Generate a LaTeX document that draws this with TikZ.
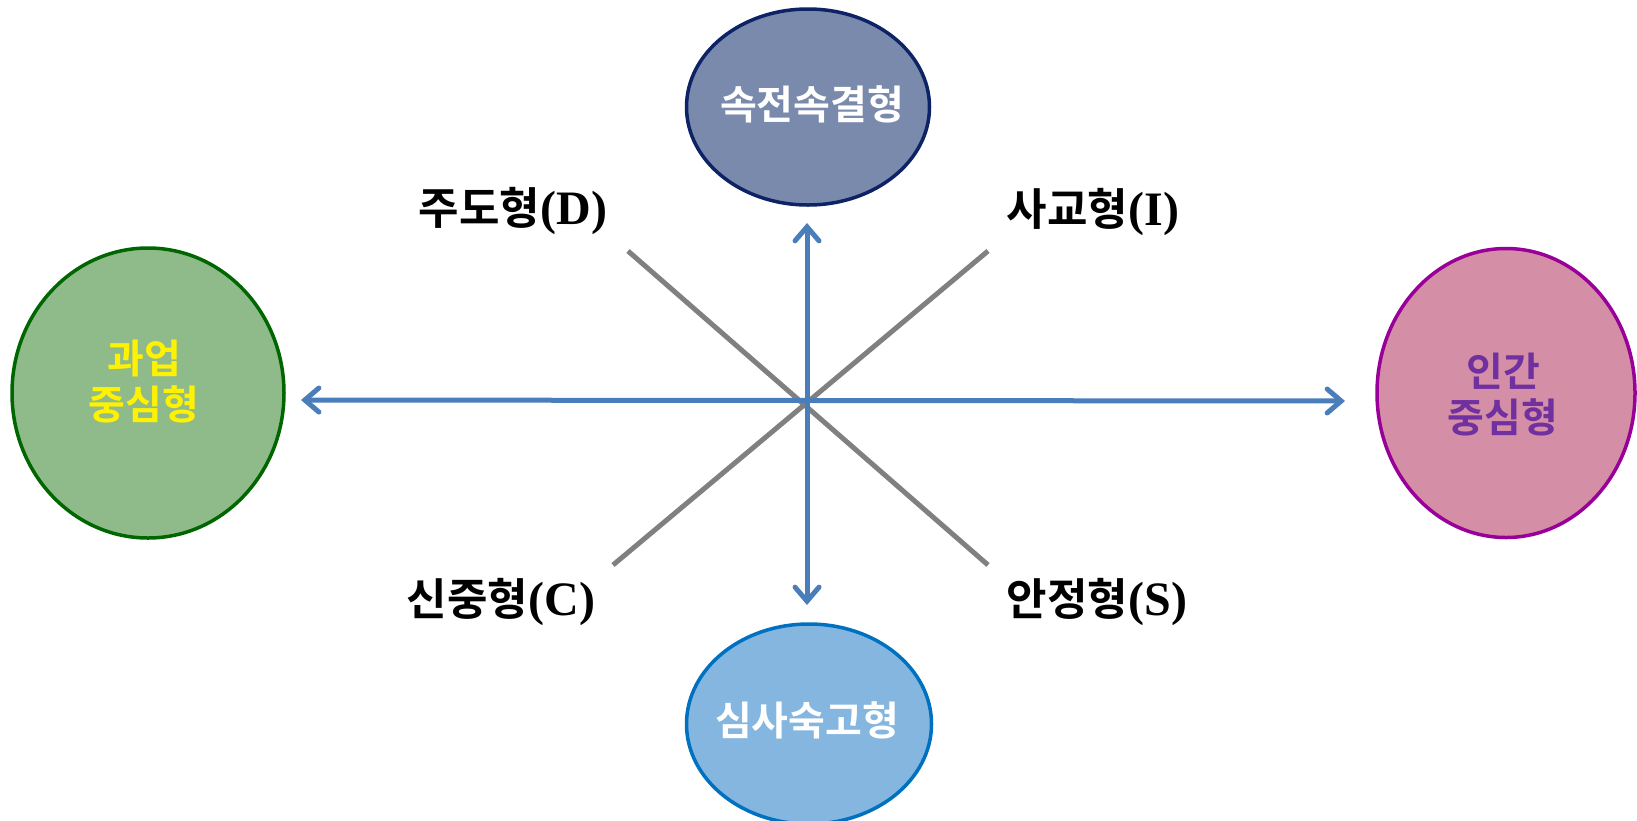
\documentclass[tikz,border=0pt]{standalone}
\usepackage{fontspec}
\setmainfont{Liberation Serif}
\newfontfamily\kr{Noto Sans CJK KR}[BoldFont={Noto Sans CJK KR Bold}]
\usetikzlibrary{shapes.geometric,arrows.meta}
\definecolor{topfill}{HTML}{7A8AAD}
\definecolor{topline}{HTML}{0D2366}
\definecolor{leftfill}{HTML}{8FBB8B}
\definecolor{leftline}{HTML}{006600}
\definecolor{rightfill}{HTML}{D48FA6}
\definecolor{rightline}{HTML}{990099}
\definecolor{botfill}{HTML}{84B6E0}
\definecolor{botline}{HTML}{0070C0}
\definecolor{arrowblue}{HTML}{4A7EBB}
\definecolor{graybar}{HTML}{808080}
\definecolor{purpletext}{HTML}{7030A0}
\newcommand{\latpart}[1]{{\fontsize{48}{52}\selectfont #1}}
\tikzset{
  oval/.style={ellipse, draw, line width=3.5pt, inner sep=0pt},
  ovaltext/.style={font=\kr\bfseries\fontsize{40}{46}\selectfont, align=center, inner sep=0pt},
  typelabel/.style={font=\bfseries\fontsize{44}{50}\selectfont, inner sep=0pt},
  bluearrow/.style={draw=arrowblue, line width=5pt, {Straight Barb[length=14pt,width=24pt,line cap=round]}-{Straight Barb[length=14pt,width=24pt,line cap=round]}},
  grayline/.style={draw=graybar, line width=5pt}
}
\begin{document}
\begin{tikzpicture}[x=1pt,y=-1pt]
\useasboundingbox (0,0) rectangle (1637,820);
% ellipses
\node[oval, fill=topfill, draw=topline, minimum width=243pt, minimum height=196pt] (top) at (808,107) {};
\node[oval, fill=leftfill, draw=leftline, minimum width=272pt, minimum height=290pt] (left) at (148,393) {};
\node[oval, fill=rightfill, draw=rightline, minimum width=258pt, minimum height=289pt] (right) at (1506,393) {};
\node[oval, fill=botfill, draw=botline, minimum width=245pt, minimum height=200pt] (bot) at (809,724) {};
\node[ovaltext, text=white] (topt) at (812,104) {속전속결형};
\node[ovaltext, text=yellow] (leftt) at (144,382) {과업\\중심형};
\node[ovaltext, text=purpletext] (rightt) at (1503,395) {인간\\중심형};
\node[ovaltext, text=white] (bott) at (807,720) {심사숙고형};
% coordinates
\coordinate (O) at (807,401);
\coordinate (L) at (301,400);
\coordinate (R) at (1345,401);
\coordinate (T) at (807,223);
\coordinate (B) at (807,605);
\coordinate (DL) at (628,251);
\coordinate (SR) at (988,565);
\coordinate (IR) at (988,251);
\coordinate (CL) at (613,565);
% gray diagonals
\draw[grayline] (DL) -- (SR);
\draw[grayline] (IR) -- (CL);
% blue arrows
\draw[bluearrow] (L) -- (R);
\draw[bluearrow] (T) -- (B);
% labels
\node[typelabel] (D) at (513,211) {{\kr 주도형}\latpart{(D)}};
\node[typelabel] (I) at (1093,212) {{\kr 사교형}\latpart{(I)}};
\node[typelabel] (C) at (501,602) {{\kr 신중형}\latpart{(C)}};
\node[typelabel] (S) at (1097,602) {{\kr 안정형}\latpart{(S)}};
\end{tikzpicture}
\end{document}
